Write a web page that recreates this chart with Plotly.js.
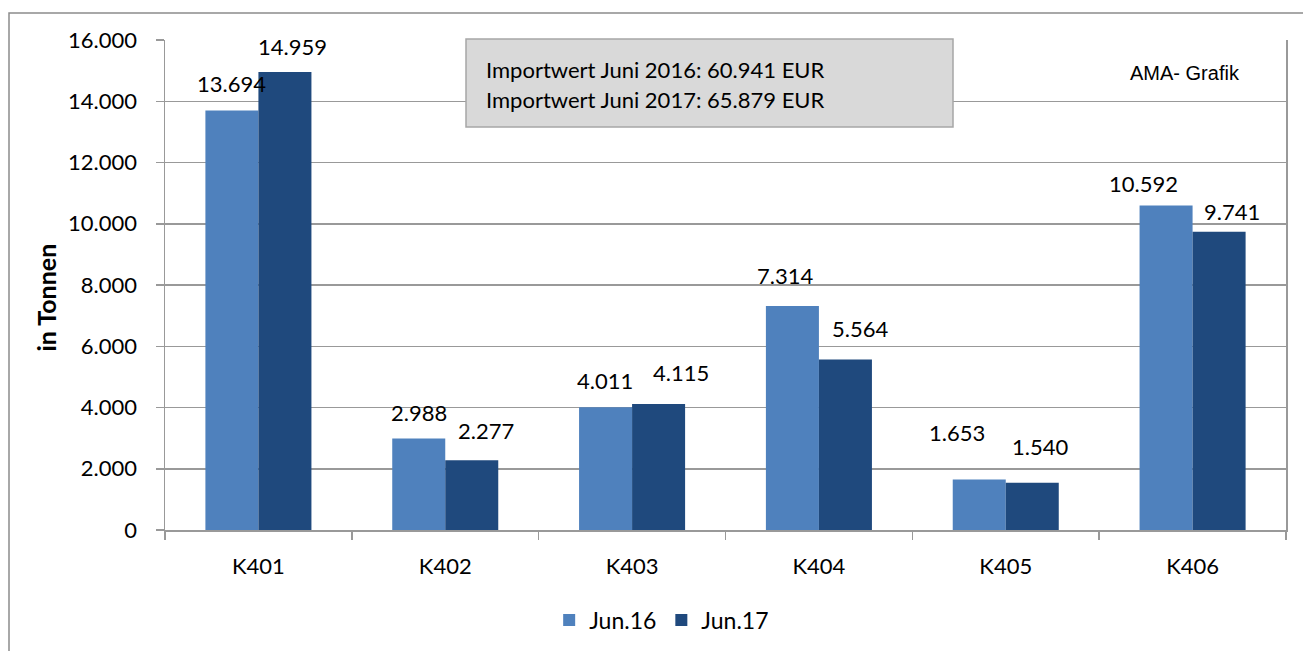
<!DOCTYPE html>
<html>
<head>
<meta charset="utf-8">
<script src="https://cdn.plot.ly/plotly-3.0.1.min.js"></script>
<style>html,body{margin:0;padding:0;background:#fff;}#chart{width:1303px;height:651px;}</style>
</head>
<body>
<div id="chart"></div>
<script>
// ---- data ----
const categories = ["K401", "K402", "K403", "K404", "K405", "K406"];
const seriesNames = ["Jun.16", "Jun.17"];
const jun16 = [13694, 2988, 4011, 7314, 1653, 10592];
const jun17 = [14959, 2277, 4115, 5564, 1540, 9741];
const yTickValues = [0, 2000, 4000, 6000, 8000, 10000, 12000, 14000, 16000];
const yAxisTitle = "in Tonnen";
const infoLines = ["Importwert Juni 2016: 60.941 EUR", "Importwert Juni 2017: 65.879 EUR"];
const sourceText = "AMA- Grafik";

// ---- label placement (pixel offsets, styling only) ----
const labelDx16 = [0, 0.5, -0.5, -7.5, -22.5, -22.5];
const labelDx17 = [7.5, 14.5, 22, 15, 7.5, 12.5];
const labelDy16 = [27.6, 25.5, 27, 31, 47, 22.6];
const labelDy17 = [25, 30, 31, 31.5, 36, 20];

const colors = ["#4F81BD", "#1F497D"];
const FONT = "Lato, 'Open Sans', sans-serif";
const fmt = v => String(v).replace(/\B(?=(\d{3})+(?!\d))/g, ".");

const traces = [jun16, jun17].map((vals, i) => ({
  type: "bar",
  name: seriesNames[i],
  x: categories,
  y: vals,
  marker: {color: colors[i], line: {width: 0}},
  hoverinfo: "x+y"
}));

const halfBar = 26.5;
const annotations = [];
[[jun16, labelDx16, labelDy16, -1], [jun17, labelDx17, labelDy17, 1]].forEach(([vals, dx, dy, side]) => {
  vals.forEach((v, j) => {
    annotations.push({
      x: categories[j], y: v, xref: "x", yref: "y",
      text: fmt(v), showarrow: false,
      xanchor: "center", yanchor: "middle",
      xshift: side * halfBar + dx[j], yshift: dy[j],
      font: {family: FONT, size: 22, color: "#000"}
    });
  });
});
annotations.push({
  xref: "paper", yref: "paper", x: 0.2846, y: (530 - 69.5) / 490,
  xanchor: "left", yanchor: "middle", showarrow: false,
  text: infoLines[0], font: {family: FONT, size: 22, color: "#000"}
});
annotations.push({
  xref: "paper", yref: "paper", x: 0.2846, y: (530 - 99.5) / 490,
  xanchor: "left", yanchor: "middle", showarrow: false,
  text: infoLines[1], font: {family: FONT, size: 22, color: "#000"}
});
annotations.push({
  xref: "paper", yref: "paper", x: 0.9095, y: (530 - 73) / 490,
  xanchor: "center", yanchor: "middle", showarrow: false,
  text: sourceText, font: {family: "'Liberation Sans', Arial, sans-serif", size: 20, color: "#000"}
});
// y-axis title (placed as in the reference, slightly below the plot centre)
annotations.push({
  xref: "paper", yref: "paper", x: (45 - 165) / 1121, y: (530 - 297.5) / 490,
  xanchor: "center", yanchor: "middle", showarrow: false, textangle: -90,
  text: "<b>" + yAxisTitle + "</b>", font: {family: FONT, size: 25, color: "#000"}
});

const layout = {
  width: 1303, height: 651,
  margin: {l: 165, r: 17, t: 40, b: 121, autoexpand: false},
  paper_bgcolor: "#fff", plot_bgcolor: "#fff",
  separators: ",.",
  font: {family: FONT, size: 22, color: "#000"},
  barmode: "group",
  bargap: 0.4325, bargroupgap: 0,
  showlegend: true,
  legend: {
    orientation: "h", x: 0.3427, xanchor: "left", y: -0.184, yanchor: "middle",
    font: {family: FONT, size: 23, color: "#000"}, bgcolor: "rgba(0,0,0,0)",
    itemwidth: 30, traceorder: "normal"
  },
  xaxis: {
    type: "category", showgrid: false, zeroline: false,
    showline: true, linecolor: "#999", linewidth: 1.5,
    ticks: "outside", tickson: "boundaries", ticklen: 8, tickcolor: "#999", tickwidth: 1.5,
    ticklabelstandoff: 16,
    tickfont: {family: FONT, size: 22, color: "#000"},
    automargin: false, fixedrange: true
  },
  yaxis: {
    range: [0, 16000], tickvals: yTickValues, tickformat: ",d",
    showgrid: true, gridcolor: "#999", gridwidth: 1.5,
    zeroline: false, showline: true, linecolor: "#999", linewidth: 1.5, mirror: true,
    ticks: "outside", ticklen: 8, tickcolor: "#999", tickwidth: 1.5,
    ticklabelstandoff: 14,
    tickfont: {family: FONT, size: 22, color: "#000"},
    automargin: false, fixedrange: true
  },
  shapes: [
    {type: "rect", xref: "paper", yref: "paper",
     x0: (466 - 165) / 1121, x1: (953 - 165) / 1121, y0: (530 - 127) / 490, y1: (530 - 39) / 490,
     fillcolor: "#D9D9D9", line: {color: "#A6A6A6", width: 1.5}, layer: "above"},
    {type: "rect", xref: "paper", yref: "paper",
     x0: (9 - 165) / 1121, x1: 1.2, y0: -0.5, y1: (530 - 13) / 490,
     fillcolor: "rgba(0,0,0,0)", line: {color: "#8C8C8C", width: 1.5}, layer: "below"}
  ],
  annotations: annotations
};

Plotly.newPlot("chart", traces, layout, {displayModeBar: false, staticPlot: true});
</script>
</body>
</html>
